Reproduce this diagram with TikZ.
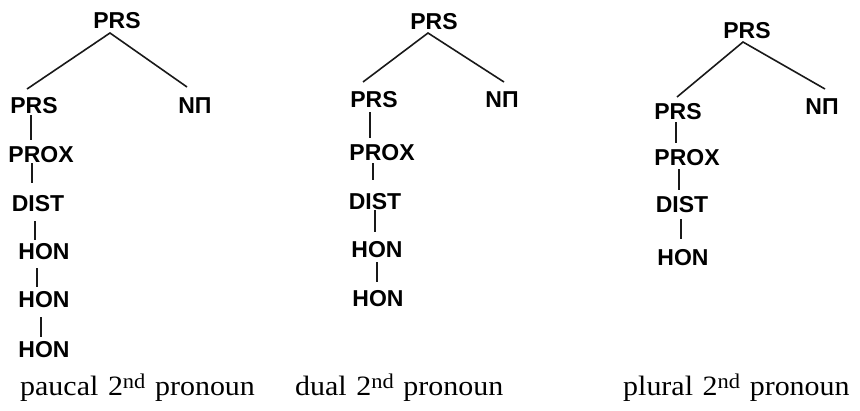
\documentclass[tikz,border=0pt]{standalone}
\usepackage{fontspec}
\usepackage{graphicx}
\setmainfont{Liberation Serif}
\newfontfamily\labfont{Liberation Sans}
\usetikzlibrary{calc}
\newcommand\widewords{\spaceskip=9pt plus 2pt\relax}
\newcommand\ordsup[1]{\raisebox{7pt}{\fontsize{21}{21}\selectfont #1}}
\newcommand\captionline[1]{\scalebox{1.07}[1]{\widewords #1}}
\tikzset{
  lab/.style={font=\labfont\bfseries\fontsize{23}{25}\selectfont, inner sep=0pt, anchor=center},
  captext/.style={font=\fontsize{28}{30}\selectfont, inner sep=0pt, anchor=base west},
  treeline/.style={line width=1.6pt, black!90}
}
\begin{document}
\begin{tikzpicture}[x=1pt,y=-1pt]
\useasboundingbox (0,0) rectangle (860,410);
% tree 1
\node[lab] (t1) at (117,21) {PRS};
\node[lab] (c1) at (34,106) {PRS};
\node[lab] (n1) at (195,106) {NΠ};
\node[lab] (p1) at (41,155) {PROX};
\node[lab] (d1) at (38,204) {DIST};
\node[lab] (h1a) at (44,252) {HON};
\node[lab] (h1b) at (44,300) {HON};
\node[lab] (h1c) at (44,350) {HON};
\node[captext] (cap1) at (20,395) {\captionline{paucal 2\ordsup{nd} pronoun}};
\draw[treeline] ($(c1)+(-7,-17)$) -- ($(t1)+(-7,12)$) -- ($(n1)+(-8,-19)$);
\draw[treeline] ($(c1)+(-3,9)$) -- ($(p1)+(-10,-15)$);
\draw[treeline] ($(p1)+(-9,8)$) -- ($(d1)+(-6,-21)$);
\draw[treeline] ($(d1)+(-3,17)$) -- ($(h1a)+(-9,-12)$);
\draw[treeline] ($(h1a)+(-7,16)$) -- ($(h1b)+(-7,-13)$);
\draw[treeline] ($(h1b)+(-3,17)$) -- ($(h1c)+(-3,-13)$);
% tree 2
\node[lab] (t2) at (434,22) {PRS};
\node[lab] (c2) at (374,100) {PRS};
\node[lab] (n2) at (502,100) {NΠ};
\node[lab] (p2) at (382,153) {PROX};
\node[lab] (d2) at (375,202) {DIST};
\node[lab] (h2a) at (377,250) {HON};
\node[lab] (h2b) at (378,299) {HON};
\node[captext] (cap2) at (295,395) {\captionline{dual 2\ordsup{nd} pronoun}};
\draw[treeline] ($(c2)+(-11,-18)$) -- ($(t2)+(-6,11)$) -- ($(n2)+(2,-18)$);
\draw[treeline] ($(c2)+(-4,12)$) -- ($(p2)+(-12,-15)$);
\draw[treeline] ($(p2)+(-9,10)$) -- ($(d2)+(-2,-22)$);
\draw[treeline] ($(d2)+(0,8)$) -- ($(h2a)+(-2,-18)$);
\draw[treeline] ($(h2a)+(0,12)$) -- ($(h2b)+(-1,-17)$);
% tree 3
\node[lab] (t3) at (747,31) {PRS};
\node[lab] (c3) at (678,112) {PRS};
\node[lab] (n3) at (822,107) {NΠ};
\node[lab] (p3) at (687,158) {PROX};
\node[lab] (d3) at (682,205) {DIST};
\node[lab] (h3) at (683,258) {HON};
\node[captext] (cap3) at (623,395) {\captionline{plural 2\ordsup{nd} pronoun}};
\draw[treeline] ($(c3)+(-1,-15)$) -- ($(t3)+(-4,11)$) -- ($(n3)+(3,-18)$);
\draw[treeline] ($(c3)+(-2,10)$) -- ($(p3)+(-11,-15)$);
\draw[treeline] ($(p3)+(-8,11)$) -- ($(d3)+(-3,-15)$);
\draw[treeline] ($(d3)+(-1,14)$) -- ($(h3)+(-2,-19)$);
\end{tikzpicture}
\end{document}
